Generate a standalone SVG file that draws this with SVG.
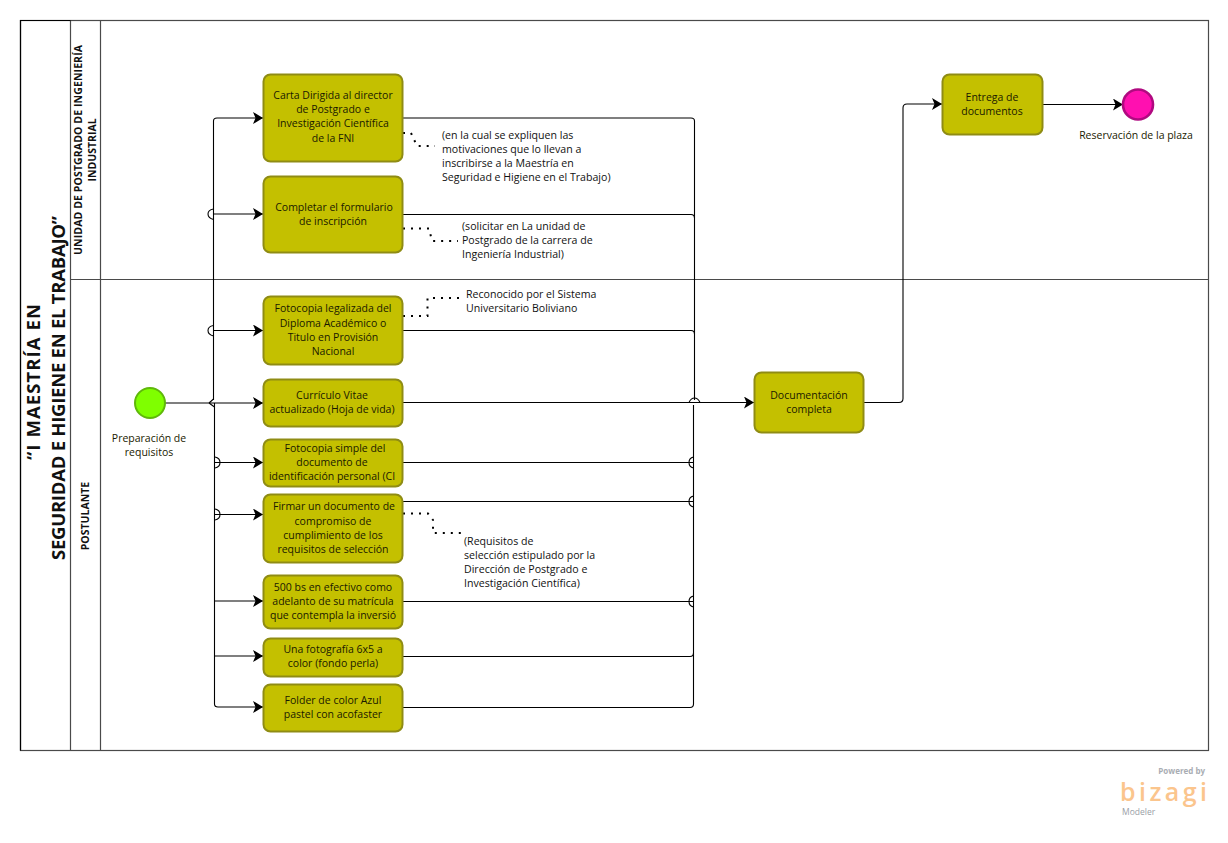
<svg xmlns="http://www.w3.org/2000/svg" width="1228" height="843" viewBox="0 0 1228 843">
<style>
.t{font-family:"Open Sans","Noto Sans","Liberation Sans",sans-serif;font-size:10.5px;fill:#1a1a00;text-anchor:middle}
.a{font-family:"Open Sans","Noto Sans","Liberation Sans",sans-serif;font-size:10.6px;fill:#111}
.n{fill:#c4c000;stroke:#8f8c14;stroke-width:2}
.l{fill:none;stroke:#000;stroke-width:1.1}
.d{fill:none;stroke:#000;stroke-width:2;stroke-dasharray:2 6}
.b{fill:none;stroke:#4a4a4a;stroke-width:1.2}
.h{font-family:"Open Sans","Noto Sans","Liberation Sans",sans-serif;text-anchor:middle;fill:#111}
</style>
<defs><marker id="ah" markerUnits="userSpaceOnUse" markerWidth="10" markerHeight="12" refX="10" refY="6" orient="auto"><path d="M0 0L10 6L0 12L2.500 6Z" fill="#000"/></marker></defs>
<rect width="1228" height="843" fill="#fff"/>
<g id="pool">
<rect class="b" x="20.500" y="20.500" width="1188" height="730"/>
<path class="b" d="M70.500 20.500V750.500M100.500 20.500V750.500M70.500 279.500H1208.500"/>
<path d="M20.500 750.500V20.500H70.500" fill="none" stroke="#000" stroke-width="1.2"/>
<text class="h" font-size="18.500" font-weight="700" textLength="156" transform="translate(40 382) rotate(-90)">“I MAESTRÍA  EN</text>
<text class="h" font-size="18.500" font-weight="700" textLength="344" transform="translate(65 388) rotate(-90)">SEGURIDAD E HIGIENE EN EL TRABAJO”</text>
<text class="h" font-size="10.500" font-weight="700" textLength="210" transform="translate(82 150) rotate(-90)">UNIDAD DE POSTGRADO DE INGENIERÍA</text>
<text class="h" font-size="10.500" font-weight="700" transform="translate(96 150) rotate(-90)">INDUSTRIAL</text>
<text class="h" font-size="10.500" font-weight="700" transform="translate(89 516) rotate(-90)">POSTULANTE</text>
</g>
<g id="connectors">
<path class="l" d="M213.500 400V121Q213.500 118 217 118H263" marker-end="url(#ah)"/>
<path class="l" d="M213.500 214H263" marker-end="url(#ah)"/>
<path class="l" d="M213.500 330.500H263" marker-end="url(#ah)"/>
<path class="l" d="M165 403H263" marker-end="url(#ah)"/>
<path class="l" d="M214.500 403V704Q214.500 707 218 707H263" marker-end="url(#ah)"/>
<path class="l" d="M214.500 462.500H263" marker-end="url(#ah)"/>
<path class="l" d="M214.500 514.500H263" marker-end="url(#ah)"/>
<path class="l" d="M214.500 601H263" marker-end="url(#ah)"/>
<path class="l" d="M214.500 656H263" marker-end="url(#ah)"/>
<path class="l" d="M403 118H691Q694.500 118 694.500 121V400"/>
<path class="l" d="M403 214.500H691Q694.500 214.500 694.500 218"/>
<path class="l" d="M403 330.500H691Q694.500 330.500 694.500 334"/>
<path class="l" d="M403 402.500H754" marker-end="url(#ah)"/>
<path class="l" d="M403 462.500H693.500"/>
<path class="l" d="M403 501.500H693.500"/>
<path class="l" d="M403 601.500H693.500"/>
<path class="l" d="M403 656.500H690Q693.500 656.500 693.500 653"/>
<path class="l" d="M403 707.500H690Q693.500 707.500 693.500 704V405"/>
<path class="l" d="M864 402.500H899Q903 402.500 903 398.500V108Q903 104 907 104H942" marker-end="url(#ah)"/>
<path class="l" d="M1043 104.500H1123" marker-end="url(#ah)"/>
<path class="l" d="M213.500 209Q208 210 208 214Q208 218 213.500 219.500"/>
<path class="l" d="M213.500 325.500Q208 326.500 208 330.500Q208 334.500 213.500 336"/>
<path class="l" d="M209 403L213.500 399M209 403L214.500 407"/>
<path class="l" d="M215 457Q220 458 220 462.500Q220 467 215 468"/>
<path class="l" d="M215 509Q220 510 220 514.500Q220 519 215 520"/>
<path class="l" d="M693.500 457Q689 458 689 462.500Q689 467 693.500 468"/>
<path class="l" d="M693.500 496Q689 497 689 501.500Q689 506 693.500 507"/>
<path class="l" d="M693.500 596Q689 597 689 601.500Q689 606 693.500 607"/>
<path class="l" d="M689 402.500Q691 398 694.500 398Q698 398 700 402.500"/>
<path class="d" d="M403 133H411L417 146H435"/>
<path class="d" d="M403 228.500H429L432 241H458"/>
<path class="d" d="M403 316H427.500V298H462"/>
<path class="d" d="M403 513.500H428L433 520V533H462"/>
</g>
<g id="n1"><rect class="n" x="263.500" y="74.500" width="139" height="87" rx="7"/><text class="t" x="333" y="99">Carta Dirigida al director</text><text class="t" x="333" y="113">de Postgrado e</text><text class="t" x="333" y="127">Investigación Científica</text><text class="t" x="333" y="142">de la FNI</text></g>
<g id="n2"><rect class="n" x="263.500" y="176.500" width="139" height="76" rx="7"/><text class="t" x="334" y="211">Completar el formulario</text><text class="t" x="333" y="225">de inscripción</text></g>
<g id="n3"><rect class="n" x="263.500" y="296.500" width="139" height="68" rx="7"/><text class="t" x="333" y="312">Fotocopia legalizada del</text><text class="t" x="333" y="327">Diploma Académico o</text><text class="t" x="333" y="341">Titulo en Provisión</text><text class="t" x="333" y="355">Nacional</text></g>
<g id="n4"><rect class="n" x="263.500" y="379.500" width="139" height="47" rx="7"/><text class="t" x="332" y="399">Currículo Vitae</text><text class="t" x="332" y="413">actualizado (Hoja de vida)</text></g>
<g id="n5"><rect class="n" x="263.500" y="439.500" width="139" height="47" rx="7"/><text class="t" x="335" y="452">Fotocopia simple del</text><text class="t" x="332" y="466">documento de</text><text class="t" x="332" y="480">identificación personal (CI</text></g>
<g id="n6"><rect class="n" x="263.500" y="494.500" width="139" height="68" rx="7"/><text class="t" x="334" y="510">Firmar un documento de</text><text class="t" x="333" y="525">compromiso de</text><text class="t" x="333" y="539">cumplimiento de los</text><text class="t" x="333" y="553">requisitos de selección</text></g>
<g id="n7"><rect class="n" x="263.500" y="575.500" width="139" height="53" rx="7"/><text class="t" x="333" y="591">500 bs en efectivo como</text><text class="t" x="333" y="605">adelanto de su matrícula</text><text class="t" x="333" y="619">que contempla la inversió</text></g>
<g id="n8"><rect class="n" x="263.500" y="638.500" width="139" height="38" rx="7"/><text class="t" x="333" y="653">Una fotografía 6x5 a</text><text class="t" x="333" y="667">color (fondo perla)</text></g>
<g id="n9"><rect class="n" x="263.500" y="684.500" width="139" height="47" rx="7"/><text class="t" x="333" y="704">Folder de color Azul</text><text class="t" x="333" y="718">pastel con acofaster</text></g>
<g id="n10"><rect class="n" x="754.500" y="372.500" width="109" height="60" rx="7"/><text class="t" x="809" y="399">Documentación</text><text class="t" x="809" y="413">completa</text></g>
<g id="n11"><rect class="n" x="942.500" y="74.500" width="100" height="60" rx="7"/><text class="t" x="992" y="101">Entrega de</text><text class="t" x="992" y="115">documentos</text></g>
<g id="start"><circle cx="150" cy="403" r="15" fill="#7fff00" stroke="#5fb80a" stroke-width="2"/><text class="t" x="149" y="442">Preparación de</text><text class="t" x="149" y="456">requisitos</text></g>
<g id="end"><circle cx="1138" cy="104.500" r="15" fill="#ff10b0" stroke="#b00a80" stroke-width="2.600"/><text class="t" x="1136" y="139">Reservación de la plaza</text></g>
<g id="notes">
<text class="a" x="442" y="139">(en la cual se expliquen las</text><text class="a" x="442" y="153">motivaciones que lo llevan a</text><text class="a" x="442" y="167">inscribirse a la Maestría en</text><text class="a" x="442" y="181">Seguridad e Higiene en el Trabajo)</text>
<text class="a" x="462" y="230">(solicitar en La unidad de</text><text class="a" x="462" y="244">Postgrado de la carrera de</text><text class="a" x="462" y="258">Ingeniería Industrial)</text>
<text class="a" x="466" y="298">Reconocido por el Sistema</text><text class="a" x="466" y="312">Universitario Boliviano</text>
<text class="a" x="464" y="545">(Requisitos de</text><text class="a" x="464" y="559">selección estipulado por la</text><text class="a" x="464" y="573">Dirección de Postgrado e</text><text class="a" x="464" y="587">Investigación Científica)</text>
</g>
<g id="logo" font-family="'Open Sans','Liberation Sans',sans-serif">
<text x="1205" y="774" text-anchor="end" font-size="8" font-weight="700" fill="#a9adb3">Powered by</text>
<text x="1120" y="801" font-size="25" font-weight="600" fill="#fbc58d" textLength="87" lengthAdjust="spacing">bizagi</text>
<text x="1122" y="815" font-size="8.500" fill="#9aa0a6">Modeler</text>
</g>
</svg>
